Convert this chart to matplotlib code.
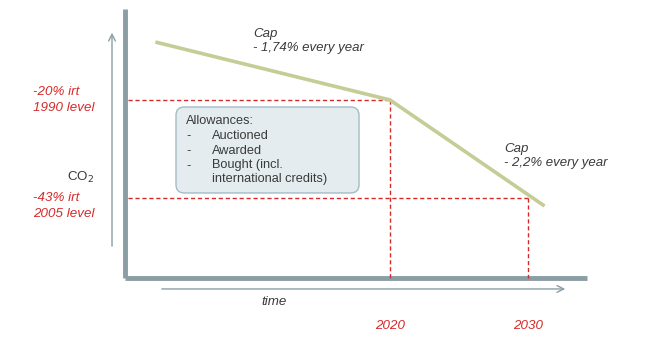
import matplotlib.pyplot as plt
from matplotlib.patches import FancyBboxPatch

plt.rcParams['font.family'] = ['Liberation Sans', 'DejaVu Sans']

# Cap trajectory (years, CO2 level index)
cap_years = [2003.0, 2020.0, 2031.2]
cap_levels = [93.6, 80.0, 55.1]

# Target levels
target_years = [2020, 2030]
target_levels = [80.0, 57.0]
target_labels = ["-20% irt\n1990 level", "-43% irt\n2005 level"]
label_offsets = [0.0, -1.9]   # label centre relative to the target level
year_labels = ["2020", "2030"]

allowances = ["Auctioned", "Awarded", "Bought (incl.\ninternational credits)"]

axis_x = 2000.8      # year of the vertical axis
base_level = 38.2    # level of the horizontal axis
red = "#d42a2a"
grey = "#8a9ea3"
text_col = "#3a3a3a"

x0, x1 = 1991.74, 2038.84
y0, y1 = 21.3, 103.47
px = 1 / 13.8   # one pixel in years
py = 1 / 4.26   # one pixel in level units

fig = plt.figure(figsize=(6.5, 3.5), dpi=100)
ax = fig.add_axes([0, 0, 1, 1])
ax.set_xlim(x0, x1)
ax.set_ylim(y0, y1)
ax.axis("off")

# thick axes
ax.plot([axis_x, axis_x], [base_level, y1 - 9 * py], color=grey, lw=3.5, solid_capstyle="butt", zorder=2)
ax.plot([axis_x, x0 + 587 * px], [base_level, base_level], color=grey, lw=3.5, solid_capstyle="butt", zorder=2)

# thin arrows
ax.annotate("", xy=(x0 + 112 * px, y1 - 30 * py), xytext=(x0 + 112 * px, y1 - 249 * py),
            arrowprops=dict(arrowstyle="->", color=grey, lw=1, mutation_scale=12))
ax.annotate("", xy=(x0 + 568 * px, y1 - 289 * py), xytext=(x0 + 159 * px, y1 - 289 * py),
            arrowprops=dict(arrowstyle="->", color=grey, lw=1, mutation_scale=12))

# red dashed target lines
for yr, lvl in zip(target_years, target_levels):
    ax.plot([axis_x + 3 * px, yr], [lvl, lvl], color=red, lw=1, ls=(0, (3, 2)), zorder=3)
    ax.plot([yr, yr], [lvl, base_level], color=red, lw=1, ls=(0, (3, 2)), zorder=3)

# cap line
ax.plot(cap_years, cap_levels, color="#c5cc95", lw=2.6, solid_capstyle="butt", zorder=4)

# labels
for lvl, off, lab in zip(target_levels, label_offsets, target_labels):
    ax.text(x0 + 33 * px, lvl + off, lab, color=red, style="italic", fontsize=9.6,
            va="center", ha="left", linespacing=1.35)
for yr, lab in zip(target_years, year_labels):
    ax.text(yr, y1 - 326 * py, lab, color=red, style="italic", fontsize=9.6, ha="center", va="center")

ax.text(x0 + 94 * px, y1 - 177 * py, "CO$_2$", color=text_col, fontsize=9.6, ha="right", va="center")
ax.text(x0 + 274 * px, y1 - 302 * py, "time", color=text_col, style="italic", fontsize=9.6,
        ha="center", va="center")

ax.text(x0 + 253 * px, y1 - 41 * py, "Cap\n- 1,74% every year", color=text_col, style="italic",
        fontsize=9.5, ha="left", va="center", linespacing=1.25)
ax.text(x0 + 504 * px, y1 - 156 * py, "Cap\n- 2,2% every year", color=text_col, style="italic",
        fontsize=9.5, ha="left", va="center", linespacing=1.25)

# allowances box
bx0, bx1 = x0 + 176 * px, x0 + 359 * px
by0, by1 = y1 - 193 * py, y1 - 107 * py
box = FancyBboxPatch((bx0, by0), bx1 - bx0, by1 - by0,
                     boxstyle="round,pad=0,rounding_size=0.6", mutation_aspect=13.8 / 4.26,
                     fc="#e4ecef", ec="#a3bcc4", lw=1, zorder=5)
ax.add_patch(box)
ax.text(x0 + 186 * px, y1 - 121 * py, "Allowances:", color=text_col, fontsize=9.2, va="center", zorder=6)
rows = [136, 151, 166]
for r, item in zip(rows, allowances):
    y = y1 - r * py
    ax.text(x0 + 186 * px, y, "-", color=text_col, fontsize=9.2, va="center", zorder=6)
    if "\n" in item:
        ax.text(x0 + 212 * px, y + 6.5 * py, item, color=text_col, fontsize=9.2, va="top",
                linespacing=1.2, zorder=6)
    else:
        ax.text(x0 + 212 * px, y, item, color=text_col, fontsize=9.2, va="center", zorder=6)

fig.savefig("out.png", dpi=100)
